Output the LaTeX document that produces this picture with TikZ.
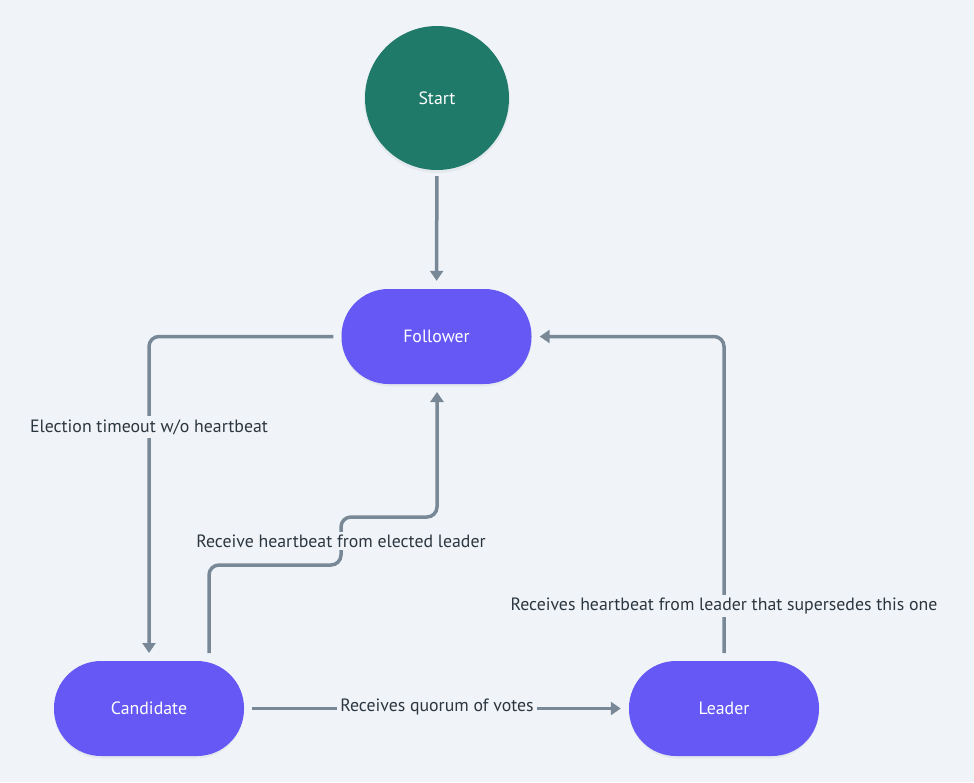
\documentclass[tikz,border=0pt]{standalone}
\usepackage{fontspec}
\setmainfont{PT Sans}
\usetikzlibrary{arrows.meta}
\definecolor{bg}{HTML}{F0F4F8}
\definecolor{startc}{HTML}{1F7A69}
\definecolor{statec}{HTML}{6558F5}
\definecolor{linec}{HTML}{788896}
\definecolor{textc}{HTML}{2B3640}
\definecolor{shadowc}{HTML}{DDE2E8}
\tikzset{
  statebox/.style={rectangle, rounded corners=47pt, fill=statec, minimum width=190pt, minimum height=95pt, text=white, font=\fontsize{17.8}{21}\selectfont},
  startbox/.style={circle, fill=startc, minimum size=144pt, text=white, font=\fontsize{17.8}{21}\selectfont},
  conn/.style={draw=linec, line width=3.5pt, rounded corners=10pt, -{Triangle[length=10pt,width=13pt]}},
  lbl/.style={fill=bg, text=textc, inner sep=3pt, font=\fontsize{17.8}{21}\selectfont},
  shd/.style={fill=shadowc, draw=none, opacity=0.6}
}
\begin{document}
\begin{tikzpicture}[x=1pt,y=-1pt]
\fill[bg] (0,0) rectangle (974,782);
\useasboundingbox (0,0) rectangle (974,782);
% faint shadows
\fill[shd] (437,100) circle (73);
\fill[shd, rounded corners=48pt] (341.5,290) rectangle (531.5,386.5);
\fill[shd, rounded corners=48pt] (54,662) rectangle (244,758.5);
\fill[shd, rounded corners=48pt] (629,662) rectangle (819,758.5);
\node[startbox] (start) at (437,98) {Start};
\node[statebox] (follower) at (436.5,336.5) {Follower};
\node[statebox] (candidate) at (149,708.5) {Candidate};
\node[statebox] (leader) at (724,708.5) {Leader};
\draw[conn, shorten <=6pt, shorten >=8pt] (start) -- (follower);
\coordinate (cn) at (149,661);
\draw[conn, shorten <=8pt, shorten >=8pt] (follower.west) -| (cn);
\node[lbl] (l1) at (149,427) {Election timeout w/o heartbeat};
\coordinate (c1) at (209,661);
\coordinate (f1) at (437,384);
\draw[conn, shorten <=8pt, shorten >=8pt] (c1) -- (209,565) -- (341,565) -- (341,517) -- (437,517) -- (f1);
\node[lbl] (l2) at (341,541) {Receive heartbeat from elected leader};
\draw[conn, shorten <=8pt, shorten >=8pt] (candidate.east) -- (leader.west);
\node[lbl] (l3) at (437,707) {Receives quorum of votes};
\coordinate (ld1) at (724,661);
\draw[conn, shorten <=8pt, shorten >=8pt] (ld1) |- (follower.east);
\node[lbl] (l4) at (724,606) {Receives heartbeat from leader that supersedes this one};
\end{tikzpicture}
\end{document}
